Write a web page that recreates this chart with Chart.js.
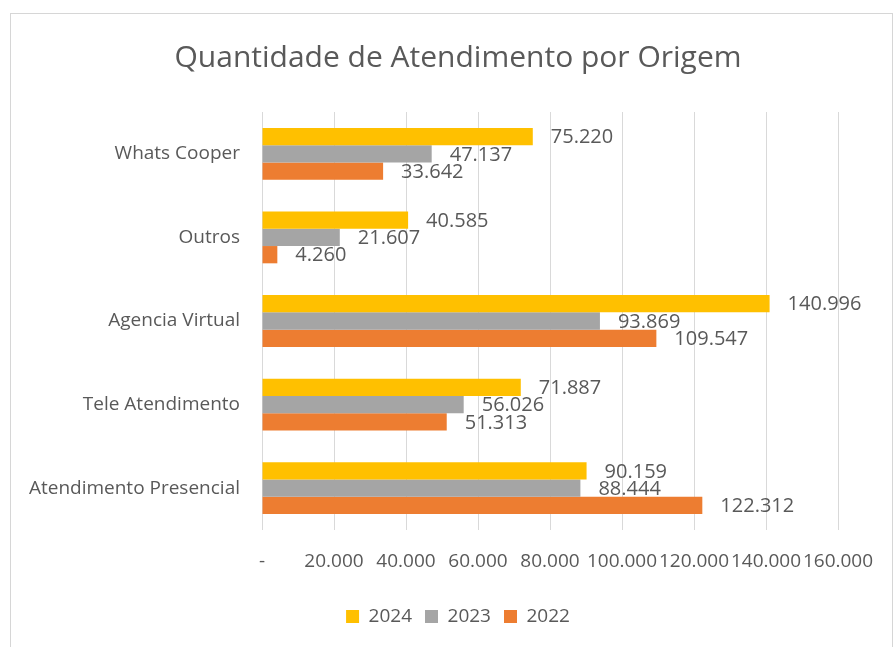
<!DOCTYPE html>
<html>
<head>
<meta charset="utf-8">
<script src="https://cdn.jsdelivr.net/npm/chart.js@4.4.1/dist/chart.umd.min.js"></script>
<style>
  html, body { margin: 0; padding: 0; background: #fff; }
  #frame {
    position: absolute; left: 10px; top: 13px; width: 883px; height: 660px;
    border: 1px solid #d6d6d6; box-sizing: border-box;
  }
  #wrap { position: absolute; left: 0; top: 0; width: 896px; height: 647px; }
</style>
</head>
<body>
<div id="frame"></div>
<div id="wrap"><canvas id="chart" width="896" height="647"></canvas></div>
<script>
// --- DATA ---
const categories = ['Whats Cooper', 'Outros', 'Agencia Virtual', 'Tele Atendimento', 'Atendimento Presencial'];
const years = ['2024', '2023', '2022'];
const values2024 = [75220, 40585, 140996, 71887, 90159];
const values2023 = [47137, 21607, 93869, 56026, 88444];
const values2022 = [33642, 4260, 109547, 51313, 122312];
const xTicks = [0, 20000, 40000, 60000, 80000, 100000, 120000, 140000, 160000];

const textColor = '#595959';
const fontFamily = "'Open Sans', sans-serif";

const fmt = v => v === 0 ? '-' : String(v).replace(/\B(?=(\d{3})+(?!\d))/g, '.');

// data labels to the right of each bar
const barLabels = {
    id: 'barLabels',
    afterDatasetsDraw(chart) {
        const ctx = chart.ctx;
        ctx.save();
        ctx.font = '20px ' + fontFamily;
        ctx.fillStyle = textColor;
        ctx.textAlign = 'left';
        ctx.textBaseline = 'middle';
        chart.data.datasets.forEach((ds, i) => {
            chart.getDatasetMeta(i).data.forEach((bar, j) => {
                ctx.fillText(fmt(ds.data[j]), bar.x + 18, bar.y + 1);
            });
        });
        ctx.restore();
    }
};

// long category names run past the y scale box; widen its label clip area
const wideLabels = {
    id: 'wideLabels',
    afterLayout(chart) { chart.scales.y.left = 0; }
};

new Chart(document.getElementById('chart'), {
    type: 'bar',
    data: {
        labels: categories,
        datasets: [
            { label: years[0], data: values2024, backgroundColor: '#FFC000' },
            { label: years[1], data: values2023, backgroundColor: '#A5A5A5' },
            { label: years[2], data: values2022, backgroundColor: '#ED7D31' }
        ]
    },
    options: {
        indexAxis: 'y',
        responsive: false,
        animation: false,
        devicePixelRatio: 1,
        categoryPercentage: 0.62,
        barPercentage: 1,
        layout: { padding: { left: 78, right: 58, top: 0, bottom: 11 } },
        scales: {
            x: {
                min: 0, max: 160000,
                afterBuildTicks: s => { s.ticks = xTicks.map(v => ({ value: v })); },
                afterFit: s => { s.height = 64; },
                ticks: {
                    autoSkip: false, maxRotation: 0, padding: 20,
                    color: textColor, font: { family: fontFamily, size: 19 },
                    callback: v => fmt(v)
                },
                grid: { color: '#d9d9d9', drawTicks: false },
                border: { display: false }
            },
            y: {
                afterFit: s => { s.width = 184; },
                ticks: { padding: 22, color: textColor, font: { family: fontFamily, size: 19 } },
                grid: { display: false, drawTicks: false },
                border: { display: false }
            }
        },
        plugins: {
            title: {
                display: true,
                text: 'Quantidade de Atendimento por Origem',
                color: textColor,
                font: { family: fontFamily, size: 30, weight: 'normal' },
                padding: { top: 40, bottom: 36 }
            },
            legend: {
                position: 'bottom',
                labels: {
                    color: textColor, font: { family: fontFamily, size: 19 },
                    boxWidth: 13, boxHeight: 13, padding: 13
                }
            },
            tooltip: { enabled: false }
        }
    },
    plugins: [barLabels, wideLabels]
});
</script>
</body>
</html>
